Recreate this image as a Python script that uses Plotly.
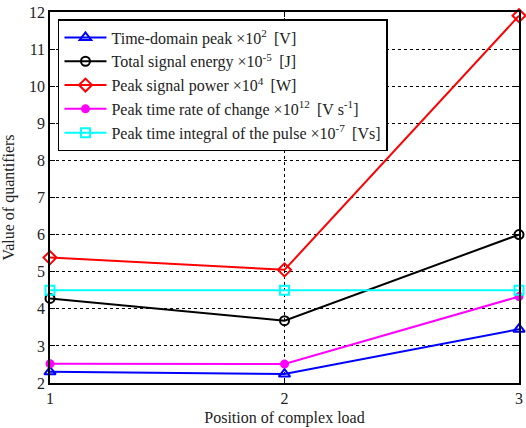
import plotly.graph_objects as go

# Load positions and the five quantifiers (scaled values)
positions = [1, 2, 3]
time_domain_peak = [2.30, 2.24, 3.45]
total_signal_energy = [4.28, 3.68, 6.00]
peak_signal_power = [5.38, 5.05, 11.90]
peak_rate_of_change = [2.52, 2.51, 4.33]
peak_time_integral = [4.50, 4.50, 4.50]

x_ticks = [1, 2, 3]
y_ticks = list(range(2, 13))

FONT = "Times New Roman, Liberation Serif, serif"

series = [
    ("Time-domain peak ×10<sup>2</sup>\u2009 [V]", time_domain_peak, "#0000ff", "triangle-up-open", 10),
    ("Total signal energy ×10<sup>-5</sup>\u2009 [J]", total_signal_energy, "#000000", "circle-open", 9),
    ("Peak signal power ×10<sup>4</sup>\u2009 [W]", peak_signal_power, "#ff0000", "diamond-open", 10),
    ("Peak time rate of change ×10<sup>12</sup>\u2009 [V s<sup>-1</sup>]", peak_rate_of_change, "#ff00ff", "circle", 7),
    ("Peak time integral of the pulse ×10<sup>-7</sup>\u2009 [Vs]", peak_time_integral, "#00ffff", "square-open", 9),
]

fig = go.Figure()
for i, (name, vals, color, symbol, size) in enumerate(series):
    fig.add_trace(go.Scatter(
        x=positions, y=vals, name=name, mode="lines+markers",
        legendgroup=f"g{i}",
        line=dict(color=color, width=2),
        marker=dict(symbol=symbol, size=size, color=color,
                    line=dict(color=color, width=2)),
        cliponaxis=False,
    ))

axis_common = dict(
    showline=True, linecolor="black", linewidth=1.5, mirror="allticks",
    ticks="inside", ticklen=5, tickcolor="black",
    showgrid=True, gridcolor="black", griddash="dot", gridwidth=1,
    zeroline=False,
    tickfont=dict(family=FONT, size=16, color="#222222"),
)

fig.update_layout(
    width=526, height=428,
    margin=dict(l=50, r=3, t=12, b=45),
    paper_bgcolor="white", plot_bgcolor="white",
    font=dict(family=FONT, size=15, color="#222222"),
    xaxis=dict(axis_common, range=[1, 3], tickvals=x_ticks,
               title=dict(text="Position of complex load", standoff=6,
                          font=dict(family=FONT, size=16))),
    yaxis=dict(axis_common, range=[2, 12], tickvals=y_ticks,
               title=dict(text="Value of quantifiers", standoff=12,
                          font=dict(family=FONT, size=16))),
    legend=dict(x=0.017, y=0.981, xanchor="left", yanchor="top",
                bgcolor="white", bordercolor="black", borderwidth=1.5,
                font=dict(family=FONT, size=16, color="#222222"),
                itemwidth=42, tracegroupgap=0),
    showlegend=True,
)

fig.write_html("out.html")
